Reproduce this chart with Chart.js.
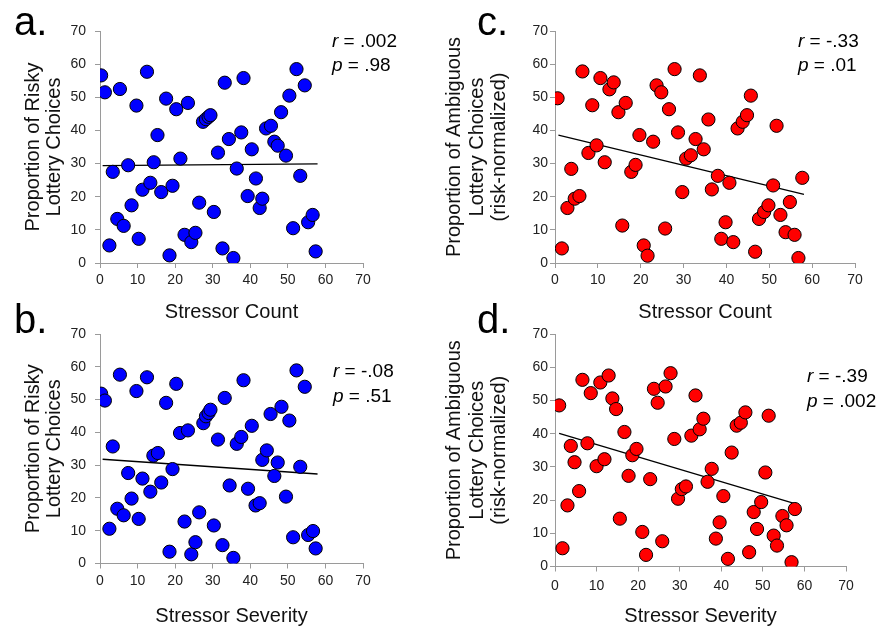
<!DOCTYPE html>
<html>
<head>
<meta charset="utf-8">
<script src="https://cdn.jsdelivr.net/npm/chart.js@4.4.1/dist/chart.umd.min.js"></script>
<style>
  body { margin: 0; background: #fff; }
  #wrap { position: relative; width: 878px; height: 628px; overflow: hidden; }
  canvas { position: absolute; }
</style>
</head>
<body>
<div id="wrap">
  <canvas id="panel-a" width="440" height="325" style="left:0;top:0"></canvas>
  <canvas id="panel-c" width="438" height="325" style="left:440px;top:0"></canvas>
  <canvas id="panel-b" width="440" height="328" style="left:0;top:300px"></canvas>
  <canvas id="panel-d" width="438" height="328" style="left:440px;top:300px"></canvas>
</div>
<script>
// a. stressor count vs risky choices
const countA = [0.3, 1.3, 2.5, 3.4, 4.6, 5.3, 6.3, 7.5, 8.4, 9.7, 10.3, 11.3, 12.5, 13.4, 14.3, 15.3, 16.3, 17.6, 18.5, 19.3,
  20.3, 21.4, 22.5, 23.4, 24.3, 25.4, 26.4, 27.4, 28.2, 28.9, 29.4, 30.3, 31.4, 32.6, 33.2, 34.3, 35.5, 36.4, 37.6, 38.2,
  39.3, 40.4, 41.5, 42.5, 43.2, 44.2, 45.5, 46.4, 47.3, 48.2, 49.5, 50.4, 51.4, 52.3, 53.3, 54.5, 55.4, 56.6, 57.4];
const riskyA = [56.6, 51.5, 5.3, 27.5, 13.3, 52.5, 11.2, 29.5, 17.4, 47.5, 7.3, 22.1, 57.7, 24.2, 30.4, 38.6, 21.4, 49.6, 2.3, 23.3,
  46.4, 31.5, 8.5, 48.3, 6.3, 9.1, 18.2, 42.6, 43.4, 44.1, 44.6, 15.4, 33.3, 4.4, 54.4, 37.4, 1.5, 28.5, 39.4, 55.8,
  20.2, 34.3, 25.5, 16.6, 19.4, 40.6, 41.4, 36.6, 35.4, 45.5, 32.4, 50.5, 10.5, 58.5, 26.3, 53.6, 12.3, 14.5, 3.5];
const fitXA = [0.7, 57.9];
const fitYA = [29.4, 29.9];

// b. stressor severity vs risky choices
const severityB = [0.3, 1.3, 2.5, 3.4, 4.6, 5.3, 6.3, 7.5, 8.4, 9.7, 10.3, 11.3, 12.5, 13.4, 14.2, 15.4, 16.3, 17.6, 18.5, 19.3,
  20.3, 21.3, 22.5, 23.4, 24.3, 25.4, 26.4, 27.5, 28.2, 28.9, 29.4, 30.3, 31.4, 32.6, 33.2, 34.5, 35.5, 36.4, 37.6, 38.2,
  39.4, 40.4, 41.4, 42.5, 43.2, 44.4, 45.4, 46.4, 47.3, 48.3, 49.5, 50.4, 51.4, 52.3, 53.3, 54.5, 55.4, 56.7, 57.4];
const riskyB = [51.8, 49.7, 10.6, 35.7, 16.7, 57.6, 14.7, 27.6, 19.8, 52.6, 13.6, 25.9, 56.8, 21.9, 32.9, 33.7, 24.7, 49.0, 3.6, 28.8,
  54.8, 39.8, 12.8, 40.6, 2.8, 6.5, 15.6, 42.8, 44.9, 45.9, 46.9, 11.6, 37.8, 5.6, 50.5, 23.8, 1.7, 36.5, 38.6, 55.9,
  22.8, 42.0, 17.7, 18.4, 31.6, 34.5, 45.6, 26.7, 30.8, 47.8, 20.4, 43.6, 8.0, 58.9, 29.5, 53.9, 8.7, 9.9, 4.6];
const fitXB = [0.7, 57.9];
const fitYB = [31.8, 27.3];

// c. stressor count vs ambiguous choices
const countC = [0.6, 1.6, 2.9, 3.8, 4.6, 5.7, 6.4, 7.8, 8.7, 9.7, 10.6, 11.6, 12.7, 13.7, 14.8, 15.7, 16.5, 17.8, 18.8, 19.7,
  20.7, 21.6, 22.9, 23.7, 24.8, 25.7, 26.6, 27.9, 28.7, 29.7, 30.6, 31.7, 32.8, 33.8, 34.7, 35.8, 36.6, 38.0, 38.8, 39.8,
  40.7, 41.6, 42.6, 43.8, 44.8, 45.7, 46.7, 47.6, 48.8, 49.8, 50.9, 51.7, 52.6, 53.8, 54.8, 55.9, 56.8, 57.7];
const ambigC = [49.7, 4.4, 16.6, 28.4, 19.4, 20.2, 57.8, 33.2, 47.6, 35.5, 55.8, 30.4, 52.4, 54.5, 45.5, 11.3, 48.3, 27.5, 29.6, 38.6,
  5.3, 2.2, 36.6, 53.6, 51.5, 10.4, 46.4, 58.5, 39.4, 21.4, 31.5, 32.5, 37.4, 56.6, 34.3, 43.3, 22.2, 26.3, 7.3, 12.3,
  24.2, 6.3, 40.6, 42.6, 44.6, 50.5, 3.4, 13.3, 15.4, 17.4, 23.4, 41.4, 14.5, 9.3, 18.4, 8.5, 1.5, 25.7];
const fitXC = [0.8, 58.1];
const fitYC = [38.6, 20.7];

// d. stressor severity vs ambiguous choices
const severityD = [1.0, 1.8, 3.0, 3.8, 4.7, 5.8, 6.6, 7.8, 8.6, 10.0, 10.9, 11.9, 12.9, 13.8, 14.7, 15.6, 16.7, 17.7, 18.6, 19.6,
  21.0, 21.9, 22.9, 23.8, 24.7, 25.8, 26.6, 27.8, 28.7, 29.6, 30.5, 31.5, 32.8, 33.8, 34.8, 35.7, 36.7, 37.7, 38.7, 39.6,
  40.5, 41.6, 42.5, 43.7, 44.7, 45.8, 46.7, 47.8, 48.6, 49.6, 50.6, 51.4, 52.6, 53.4, 54.7, 55.7, 56.9, 57.7];
const ambigD = [48.5, 5.5, 18.4, 36.3, 31.4, 22.7, 56.2, 37.1, 52.2, 30.2, 55.4, 32.3, 57.5, 50.6, 47.4, 14.4, 40.5, 27.3, 33.5, 35.4,
  10.4, 3.5, 26.3, 53.5, 49.3, 7.6, 54.2, 58.2, 38.4, 20.4, 23.3, 24.1, 39.4, 51.5, 41.3, 44.5, 25.5, 29.4, 8.4, 13.3,
  21.2, 2.3, 34.3, 42.4, 43.3, 46.4, 4.3, 16.4, 11.3, 19.4, 28.3, 45.4, 9.3, 6.3, 15.2, 12.4, 1.3, 17.3];
const fitXD = [1.0, 57.7];
const fitYD = [40.1, 18.9];

const FONT = "'Liberation Sans', Arial, Helvetica, sans-serif";
const AXIS_GREY = '#9a9a9a';

const pairs = (xs, ys) => xs.map((x, i) => ({ x: x, y: ys[i] }));

// panel letter + r / p figures, drawn after the chart
const panelText = {
  id: 'panelText',
  afterDraw(chart, args, opts) {
    const ctx = chart.ctx;
    ctx.save();
    ctx.fillStyle = '#000';
    ctx.textBaseline = 'alphabetic';
    ctx.textAlign = 'left';
    ctx.font = `40px ${FONT}`;
    ctx.fillText(opts.letter, opts.lx, opts.ly);

    ctx.textBaseline = 'middle';
    const lines = [['r', opts.r, opts.ry], ['p', opts.p, opts.py]];
    lines.forEach(([sym, val, y]) => {
      ctx.font = `italic 19px ${FONT}`;
      ctx.fillText(sym, opts.rx, y);
      const w = ctx.measureText(sym).width;
      ctx.font = `19px ${FONT}`;
      ctx.fillText(' = ' + val, opts.rx + w, y);
    });
    ctx.restore();
  }
};

function makePanel(id, cfg) {
  const ctx = document.getElementById(id).getContext('2d');
  return new Chart(ctx, {
    type: 'scatter',
    data: {
      datasets: [{
        data: pairs(cfg.xs, cfg.ys),
        backgroundColor: cfg.color,
        borderColor: '#000',
        borderWidth: 1,
        pointRadius: 6.6,
        order: 0
      }, {
        data: pairs(cfg.fitX, cfg.fitY),
        showLine: true,
        borderColor: '#000',
        borderWidth: 1.3,
        pointRadius: 0,
        order: 1
      }]
    },
    options: {
      responsive: false,
      animation: false,
      devicePixelRatio: 1,
      layout: { padding: cfg.pad },
      plugins: {
        legend: { display: false },
        tooltip: { enabled: false },
        panelText: cfg.text
      },
      scales: {
        x: {
          type: 'linear',
          min: 0,
          max: 70,
          ticks: { stepSize: 10, color: '#222', font: { family: FONT, size: 14 }, padding: cfg.xTickPad, maxRotation: 0 },
          grid: { drawOnChartArea: false, tickLength: 5, color: AXIS_GREY },
          border: { color: AXIS_GREY },
          title: {
            display: true,
            text: cfg.xTitle,
            color: '#111',
            font: { family: FONT, size: 20 },
            padding: { top: 0, bottom: cfg.xTitlePad }
          },
          afterFit: (scale) => { scale.height = cfg.xHeight; }
        },
        y: {
          type: 'linear',
          min: 0,
          max: 70,
          ticks: { stepSize: 10, color: '#222', font: { family: FONT, size: 14 }, padding: cfg.yTickPad },
          grid: { drawOnChartArea: false, tickLength: 5, color: AXIS_GREY },
          border: { color: AXIS_GREY },
          title: {
            display: true,
            text: cfg.yTitle,
            color: '#111',
            font: { family: FONT, size: 20, lineHeight: cfg.yLineHeight },
            padding: { top: cfg.yTitlePad, bottom: 0 }
          },
          afterFit: (scale) => { scale.width = cfg.yWidth; }
        }
      }
    },
    plugins: [panelText]
  });
}

makePanel('panel-a', {
  xs: countA, ys: riskyA, fitX: fitXA, fitY: fitYA, color: '#0000ff',
  pad: { top: 31, right: 77, bottom: 0, left: 0 },
  xHeight: 62, yWidth: 100, xTickPad: 4, yTickPad: 9, xTitlePad: 1, yTitlePad: 23, yLineHeight: 1.05,
  xTitle: 'Stressor Count',
  yTitle: ['Proportion of Risky', 'Lottery Choices'],
  text: { letter: 'a.', lx: 14, ly: 35, r: '.002', p: '.98', rx: 332, ry: 42, py: 66 }
});

makePanel('panel-b', {
  xs: severityB, ys: riskyB, fitX: fitXB, fitY: fitYB, color: '#0000ff',
  pad: { top: 34, right: 77, bottom: 0, left: 0 },
  xHeight: 64.5, yWidth: 100, xTickPad: 4, yTickPad: 9, xTitlePad: 0, yTitlePad: 23, yLineHeight: 1.05,
  xTitle: 'Stressor Severity',
  yTitle: ['Proportion of Risky', 'Lottery Choices'],
  text: { letter: 'b.', lx: 14, ly: 33, r: '-.08', p: '.51', rx: 333, ry: 72, py: 97 }
});

makePanel('panel-c', {
  xs: countC, ys: ambigC, fitX: fitXC, fitY: fitYC, color: '#ff0000',
  pad: { top: 31, right: 23, bottom: 0, left: 0 },
  xHeight: 62, yWidth: 115, xTickPad: 4, yTickPad: 2, xTitlePad: 1, yTitlePad: 3.5, yLineHeight: 1.12,
  xTitle: 'Stressor Count',
  yTitle: ['Proportion of Ambiguous', 'Lottery Choices', '(risk-normalized)'],
  text: { letter: 'c.', lx: 37, ly: 35, r: '-.33', p: '.01', rx: 358, ry: 42, py: 66 }
});

makePanel('panel-d', {
  xs: severityD, ys: ambigD, fitX: fitXD, fitY: fitYD, color: '#ff0000',
  pad: { top: 34, right: 32, bottom: 0, left: 0 },
  xHeight: 61.5, yWidth: 115, xTickPad: 6, yTickPad: 2, xTitlePad: 0, yTitlePad: 3.5, yLineHeight: 1.12,
  xTitle: 'Stressor Severity',
  yTitle: ['Proportion of Ambiguous', 'Lottery Choices', '(risk-normalized)'],
  text: { letter: 'd.', lx: 37, ly: 33, r: '-.39', p: '.002', rx: 367, ry: 77, py: 102 }
});
</script>
</body>
</html>
